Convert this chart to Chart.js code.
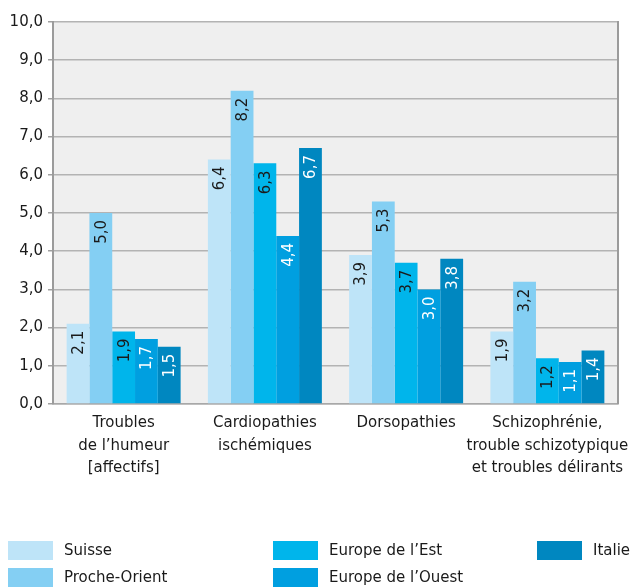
<!DOCTYPE html>
<html>
<head>
<meta charset="utf-8">
<script src="https://cdn.jsdelivr.net/npm/chart.js@4/dist/chart.umd.min.js"></script>
<style>
html,body{margin:0;padding:0;background:#fff;overflow:hidden;}
#wrap{position:relative;width:631px;height:588px;}
</style>
</head>
<body>
<div id="wrap"><canvas id="c" width="631" height="588"></canvas></div>
<script>
// ---- Data ----
const categories = [
  ["Troubles", "de l\u2019humeur", "[affectifs]"],
  ["Cardiopathies", "isch\u00e9miques"],
  ["Dorsopathies"],
  ["Schizophr\u00e9nie,", "trouble schizotypique", "et troubles d\u00e9lirants"]
];
const seriesNames = ["Suisse", "Proche-Orient", "Europe de l\u2019Est", "Europe de l\u2019Ouest", "Italie"];
const suisse       = [2.1, 6.4, 3.9, 1.9];
const procheOrient = [5.0, 8.2, 5.3, 3.2];
const europeEst    = [1.9, 6.3, 3.7, 1.2];
const europeOuest  = [1.7, 4.4, 3.0, 1.1];
const italie       = [1.5, 6.7, 3.8, 1.4];
const yTicks = [0, 1, 2, 3, 4, 5, 6, 7, 8, 9, 10];

// ---- Styles ----
const seriesColors = ["#bee4f8", "#84cff3", "#00b5eb", "#009fe0", "#0087c0"];
const labelColors  = ["#1a1a1a", "#1a1a1a", "#1a1a1a", "#ffffff", "#ffffff"];
const FONT = "'DejaVu Sans', sans-serif";
const fmt = v => v.toFixed(1).replace('.', ',');

const seriesValues = [suisse, procheOrient, europeEst, europeOuest, italie];

const bgPlugin = {
  id: 'bg',
  beforeDraw(chart) {
    const {ctx, chartArea: a} = chart;
    ctx.save();
    ctx.fillStyle = '#efefef';
    ctx.fillRect(a.left, a.top, a.right - a.left, a.bottom - a.top);
    ctx.restore();
  },
  afterDatasetsDraw(chart) {
    const {ctx, chartArea: a} = chart;
    ctx.save();
    ctx.strokeStyle = '#9b9b9b';
    ctx.lineWidth = 2;
    ctx.beginPath();
    ctx.moveTo(a.right, a.top - 1);
    ctx.lineTo(a.right, a.bottom);
    ctx.stroke();
    ctx.restore();
  }
};

const valueLabels = {
  id: 'valueLabels',
  afterDatasetsDraw(chart) {
    const ctx = chart.ctx;
    ctx.save();
    ctx.font = "15px " + FONT;
    chart.data.datasets.forEach((ds, di) => {
      const meta = chart.getDatasetMeta(di);
      meta.data.forEach((el, i) => {
        ctx.save();
        ctx.translate(el.x, el.y + 7);
        ctx.rotate(-Math.PI / 2);
        ctx.textAlign = 'right';
        ctx.textBaseline = 'middle';
        ctx.fillStyle = labelColors[di];
        ctx.fillText(fmt(ds.data[i]), 0, 1);
        ctx.restore();
      });
    });
    ctx.restore();
  }
};

const legendPlugin = {
  id: 'customLegend',
  afterDraw(chart) {
    const ctx = chart.ctx;
    ctx.save();
    ctx.font = "15px " + FONT;
    ctx.textBaseline = 'middle';
    ctx.textAlign = 'left';
    const colX = [8, 273, 537];
    const rowY = [541, 568];
    chart.data.datasets.forEach((ds, i) => {
      const c = Math.floor(i / 2), r = i % 2;
      const x = colX[c], y = rowY[r];
      ctx.fillStyle = ds.backgroundColor;
      ctx.fillRect(x, y, 45, 19);
      ctx.fillStyle = '#1a1a1a';
      ctx.fillText(ds.label, x + 56, y + 10);
    });
    ctx.restore();
  }
};

new Chart(document.getElementById('c'), {
  type: 'bar',
  data: {
    labels: categories,
    datasets: seriesNames.map((n, i) => ({
      label: n,
      data: seriesValues[i],
      backgroundColor: seriesColors[i],
      borderWidth: 0,
      categoryPercentage: 0.807,
      barPercentage: 1.0
    }))
  },
  options: {
    responsive: false,
    animation: false,
    devicePixelRatio: 1,
    layout: { padding: { left: 0, right: 13, top: 22, bottom: 104 } },
    plugins: { legend: { display: false }, tooltip: { enabled: false } },
    scales: {
      x: {
        grid: { display: false, drawTicks: false, tickLength: 0 },
        border: { display: true, color: '#a8a8a8', width: 1.5 },
        ticks: { color: '#1a1a1a', font: { family: FONT, size: 15, lineHeight: 1.5 }, padding: 8, maxRotation: 0, autoSkip: false },
        afterFit(s) { s.paddingLeft = 0; s.paddingRight = 0; s.height = 80; }
      },
      y: {
        min: 0, max: 10,
        afterBuildTicks(s) { s.ticks = yTicks.map(v => ({ value: v })); },
        grid: { color: '#b3b3b3', lineWidth: 1.5, tickLength: 5, drawTicks: true, tickColor: '#a0a0a0' },
        border: { display: true, color: '#9b9b9b', width: 2 },
        ticks: { color: '#1a1a1a', font: { family: FONT, size: 15 }, padding: 5, callback: v => fmt(v) },
        afterFit(s) { s.width = 53; s.paddingTop = 0; s.paddingBottom = 0; }
      }
    }
  },
  plugins: [bgPlugin, valueLabels, legendPlugin]
});
</script>
</body>
</html>
